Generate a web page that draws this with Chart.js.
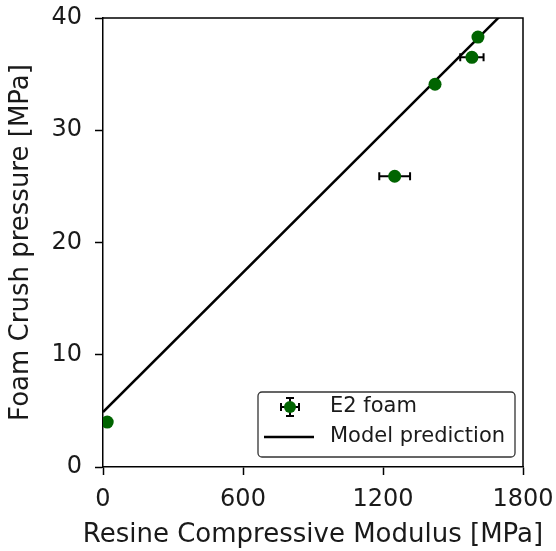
<!DOCTYPE html>
<html>
<head>
<meta charset="utf-8">
<script src="https://cdn.jsdelivr.net/npm/chart.js@4.4.0/dist/chart.umd.min.js"></script>
<style>
    html, body { margin: 0; padding: 0; background: #ffffff; }
    #wrap { width: 556px; height: 551px; position: relative; }
</style>
</head>
<body>
<div id="wrap"><canvas id="crushChart"></canvas></div>
<script>
// Foam crush pressure vs resin modulus

// measured points (E2 foam)
const modulusValues = [18, 1250, 1423, 1581, 1607];
const crushValues = [4.0, 25.9, 34.1, 36.5, 38.3];
const modulusErr = [8, 66, 10, 50, 12];
const crushErr = [0.3, 0.3, 0.3, 0.3, 0.3];

// model prediction line endpoints
const modelX = [0, 1800];
const modelY = [4.9, 42.2];

const xTicks = [0, 600, 1200, 1800];
const yTicks = [0, 10, 20, 30, 40];

const xTitle = 'Resine Compressive Modulus [MPa]';
const yTitle = 'Foam Crush pressure [MPa]';

const FONT = "'DejaVu Sans', sans-serif";
const GREEN = '#006400';
const TEXT = '#1a1a1a';

// error bars drawn under the markers
const errorBarPlugin = {
    id: 'errorBars',
    beforeDatasetDraw(chart, args) {
        if (args.index !== 0) return;
        const ctx = chart.ctx;
        const xs = chart.scales.x;
        const ys = chart.scales.y;
        const area = chart.chartArea;
        const cap = 4;
        ctx.save();
        ctx.beginPath();
        ctx.rect(area.left, area.top, area.right - area.left, area.bottom - area.top);
        ctx.clip();
        ctx.strokeStyle = '#000';
        ctx.lineWidth = 2;
        for (let i = 0; i < modulusValues.length; i++) {
            const cx = xs.getPixelForValue(modulusValues[i]);
            const cy = ys.getPixelForValue(crushValues[i]);
            const x0 = xs.getPixelForValue(modulusValues[i] - modulusErr[i]);
            const x1 = xs.getPixelForValue(modulusValues[i] + modulusErr[i]);
            const y0 = ys.getPixelForValue(crushValues[i] - crushErr[i]);
            const y1 = ys.getPixelForValue(crushValues[i] + crushErr[i]);
            ctx.beginPath();
            ctx.moveTo(x0, cy); ctx.lineTo(x1, cy);
            ctx.moveTo(x0, cy - cap); ctx.lineTo(x0, cy + cap);
            ctx.moveTo(x1, cy - cap); ctx.lineTo(x1, cy + cap);
            ctx.moveTo(cx, y0); ctx.lineTo(cx, y1);
            ctx.moveTo(cx - cap, y0); ctx.lineTo(cx + cap, y0);
            ctx.moveTo(cx - cap, y1); ctx.lineTo(cx + cap, y1);
            ctx.stroke();
        }
        ctx.restore();
    }
};

// top/right spines, x title (unsqueezed) + matplotlib-like legend box
const framePlugin = {
    id: 'frame',
    afterDraw(chart) {
        const ctx = chart.ctx;
        const a = chart.chartArea;
        ctx.save();
        ctx.strokeStyle = '#000';
        ctx.lineWidth = 1.5;
        ctx.beginPath();
        ctx.moveTo(a.left, a.top);
        ctx.lineTo(a.right, a.top);
        ctx.lineTo(a.right, a.bottom);
        ctx.stroke();

        // x axis title
        ctx.fillStyle = TEXT;
        ctx.font = '26px ' + FONT;
        ctx.textAlign = 'center';
        ctx.textBaseline = 'alphabetic';
        ctx.fillText(xTitle, (a.left + a.right) / 2, a.bottom + 75);

        // legend
        const bx = a.right - 265, by = a.bottom - 75, bw = 257, bh = 65;
        ctx.fillStyle = 'rgba(255,255,255,0.8)';
        ctx.strokeStyle = '#333';
        ctx.lineWidth = 1.3;
        ctx.beginPath();
        ctx.roundRect(bx, by, bw, bh, 4);
        ctx.fill();
        ctx.stroke();

        // errorbar sample
        const mx = bx + 32, my = by + 15;
        ctx.strokeStyle = '#000';
        ctx.lineWidth = 2;
        ctx.beginPath();
        ctx.moveTo(mx - 9, my); ctx.lineTo(mx + 9, my);
        ctx.moveTo(mx - 9, my - 4); ctx.lineTo(mx - 9, my + 4);
        ctx.moveTo(mx + 9, my - 4); ctx.lineTo(mx + 9, my + 4);
        ctx.moveTo(mx, my - 9); ctx.lineTo(mx, my + 9);
        ctx.moveTo(mx - 4, my - 9); ctx.lineTo(mx + 4, my - 9);
        ctx.moveTo(mx - 4, my + 9); ctx.lineTo(mx + 4, my + 9);
        ctx.stroke();
        ctx.fillStyle = GREEN;
        ctx.beginPath();
        ctx.arc(mx, my, 6, 0, Math.PI * 2);
        ctx.fill();

        // line sample
        ctx.strokeStyle = '#000';
        ctx.lineWidth = 2.5;
        ctx.beginPath();
        ctx.moveTo(bx + 6, by + 45);
        ctx.lineTo(bx + 56, by + 45);
        ctx.stroke();

        ctx.fillStyle = TEXT;
        ctx.font = '21px ' + FONT;
        ctx.textBaseline = 'middle';
        ctx.textAlign = 'left';
        ctx.fillText('E2 foam', bx + 72, my);
        ctx.fillText('Model prediction', bx + 72, by + 45);
        ctx.restore();
    }
};

const ctx = document.getElementById('crushChart').getContext('2d');

new Chart(ctx, {
    type: 'scatter',
    data: {
        datasets: [{
            label: 'E2 foam',
            data: modulusValues.map((v, i) => ({ x: v, y: crushValues[i] })),
            backgroundColor: GREEN,
            borderColor: GREEN,
            pointRadius: 6.5,
            pointBorderWidth: 0,
            clip: 0
        }, {
            label: 'Model prediction',
            data: modelX.map((v, i) => ({ x: v, y: modelY[i] })),
            showLine: true,
            borderColor: '#000',
            borderWidth: 2.5,
            pointRadius: 0,
            clip: 0
        }]
    },
    options: {
        responsive: true,
        maintainAspectRatio: false,
        animation: false,
        layout: {
            padding: { top: 18, right: 33, left: 0, bottom: 0 }
        },
        plugins: {
            legend: { display: false },
            tooltip: { enabled: false }
        },
        scales: {
            x: {
                type: 'linear',
                min: 0,
                max: 1800,
                afterBuildTicks: (scale) => { scale.ticks = xTicks.map(v => ({ value: v })); },
                afterFit: (scale) => {
                    scale.height = 84;
                    scale.paddingLeft = 0;
                    scale.paddingRight = 0;
                },
                grid: { drawOnChartArea: false, drawTicks: true, tickLength: 8, tickWidth: 1.5, tickColor: '#000' },
                border: { display: true, color: '#000', width: 1.5 },
                ticks: {
                    color: TEXT,
                    font: { family: FONT, size: 24 },
                    padding: 10,
                    maxRotation: 0,
                    callback: (v) => String(v)
                },
                title: { display: false }
            },
            y: {
                type: 'linear',
                min: 0,
                max: 40,
                afterBuildTicks: (scale) => { scale.ticks = yTicks.map(v => ({ value: v })); },
                afterFit: (scale) => {
                    scale.width = 103;
                    scale.paddingTop = 0;
                    scale.paddingBottom = 0;
                },
                grid: { drawOnChartArea: false, drawTicks: true, tickLength: 8, tickWidth: 1.5, tickColor: '#000' },
                border: { display: true, color: '#000', width: 1.5 },
                ticks: { color: TEXT, font: { family: FONT, size: 24 }, padding: 13 },
                title: {
                    display: true,
                    text: yTitle,
                    color: TEXT,
                    font: { family: FONT, size: 26 },
                    padding: { top: 6, bottom: 0 }
                }
            }
        }
    },
    plugins: [errorBarPlugin, framePlugin]
});
</script>
</body>
</html>
